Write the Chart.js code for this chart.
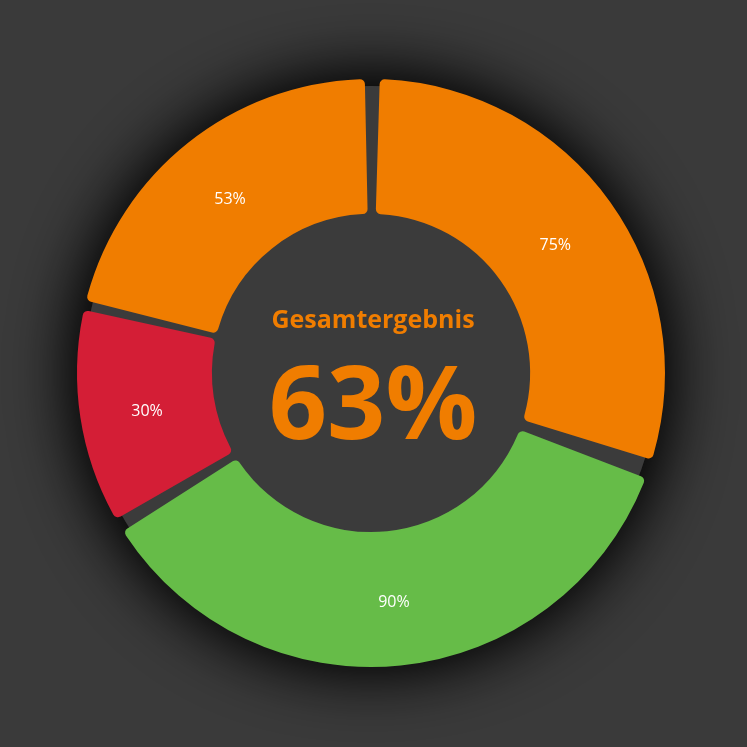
<!DOCTYPE html>
<html>
<head>
<meta charset="utf-8">
<script src="https://cdn.jsdelivr.net/npm/chart.js@4.4.1/dist/chart.umd.min.js"></script>
<style>
  html, body { margin: 0; padding: 0; background: #3a3a3a; }
  #wrap { width: 747px; height: 747px; }
</style>
</head>
<body>
<div id="wrap"><canvas id="place__graph1" width="747" height="747"></canvas></div>
<script>
// values
const categories = ['Bereich 1', 'Bereich 2', 'Bereich 3', 'Bereich 4'];
const values = [75, 90, 30, 53];
const colors = ['#f07d00', '#66bc48', '#d41e36', '#f07d00'];
const centerTitle = 'Gesamtergebnis';
const centerValue = '63%';

// dark disc with a big shadow behind the ring
const backDisc = {
    id: 'backDisc',
    beforeDatasetsDraw(chart) {
        const arc = chart.getDatasetMeta(0).data[0];
        if (!arc) return;
        const ctx = chart.ctx;
        ctx.save();
        ctx.fillStyle = '#3b3b3b';
        ctx.shadowColor = 'rgba(0,0,0,0.95)';
        ctx.shadowBlur = 70;
        for (let i = 0; i < 2; i++) {
            ctx.beginPath();
            ctx.arc(arc.x, arc.y, arc.outerRadius, 0, Math.PI * 2);
            ctx.fill();
        }
        ctx.restore();
    }
};

// percent labels on the slices + text in the middle
const sliceText = {
    id: 'sliceText',
    afterDatasetsDraw(chart) {
        const ctx = chart.ctx;
        const meta = chart.getDatasetMeta(0);
        ctx.save();
        ctx.fillStyle = '#ffffff';
        ctx.font = '16px "Open Sans"';
        ctx.textAlign = 'center';
        ctx.textBaseline = 'middle';
        meta.data.forEach((arc, i) => {
            const p = arc.tooltipPosition();
            ctx.fillText(values[i] + '%', p.x, p.y + 4);
        });

        const a = meta.data[0];
        ctx.fillStyle = '#f07d00';
        ctx.textBaseline = 'alphabetic';
        ctx.font = 'bold 25px "Open Sans"';
        ctx.fillText(centerTitle, a.x + 2, a.y - 45);
        ctx.font = 'bold 102px "Open Sans"';
        ctx.fillText(centerValue, a.x + 2, a.y + 66);
        ctx.restore();
    }
};

const ctx = document.getElementById('place__graph1').getContext('2d');
const chart = new Chart(ctx, {
    type: 'doughnut',
    data: {
        labels: categories,
        datasets: [{
            data: values,
            backgroundColor: colors,
            borderWidth: 0,
            borderRadius: 5,
            spacing: 14
        }]
    },
    options: {
        responsive: false,
        animation: false,
        cutout: '53%',
        layout: { padding: { left: 77, right: 82, top: 79, bottom: 80 } },
        plugins: {
            legend: { display: false },
            tooltip: { enabled: false }
        }
    },
    plugins: [backDisc, sliceText]
});
</script>
</body>
</html>
